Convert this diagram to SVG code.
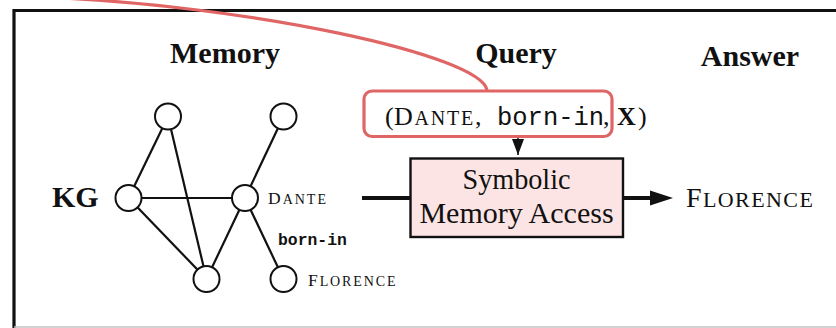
<svg xmlns="http://www.w3.org/2000/svg" width="836" height="328" viewBox="0 0 836 328">
  <style>
    .serif { font-family: "Liberation Serif", "Times New Roman", serif; fill: #111; }
    .bold { font-weight: bold; }
    .mono { font-family: "Liberation Mono", "Courier New", monospace; fill: #111; }
    .node { fill: #fff; stroke: #111; stroke-width: 2; }
    .edge { stroke: #111; stroke-width: 2.2; fill: none; }
    .thick { stroke: #111; stroke-width: 4; fill: none; }
    .hl { fill: none; stroke: #e06666; stroke-width: 3.2; }
  </style>
  <defs>
    <marker id="head" markerUnits="userSpaceOnUse" markerWidth="16" markerHeight="12" refX="16" refY="6" orient="auto" viewBox="0 0 16 12">
      <path d="M0,0 L16,6 L0,12 Z" fill="#111"/>
    </marker>
  </defs>

  <!-- frame -->
  <path d="M14,328 V10.5 H836" fill="none" stroke="#111" stroke-width="3.2"/>
  <line x1="14" y1="327" x2="836" y2="327" stroke="#c4c4c4" stroke-width="1.5"/>

  <!-- column headings -->
  <text class="serif bold" x="225" y="63" font-size="30" text-anchor="middle">Memory</text>
  <text class="serif bold" x="516" y="63" font-size="30" text-anchor="middle">Query</text>
  <text class="serif bold" x="750" y="66" font-size="30" text-anchor="middle">Answer</text>

  <!-- connectors -->
  <g id="connectors">
    <line class="edge" x1="168" y1="116.5" x2="128.5" y2="198"/>
    <line class="edge" x1="168" y1="116.5" x2="206.5" y2="279"/>
    <line class="edge" x1="128.5" y1="198" x2="245" y2="198"/>
    <line class="edge" x1="128.5" y1="198" x2="206.5" y2="279"/>
    <line class="edge" x1="245" y1="198" x2="206.5" y2="279"/>
    <line class="edge" x1="245" y1="198" x2="283.5" y2="116.5"/>
    <line class="edge" x1="245" y1="198" x2="283.5" y2="279"/>
    <!-- query into access box -->
    <line x1="518" y1="138" x2="518" y2="155" stroke="#111" stroke-width="1.5" marker-end="url(#head)"/>
    <!-- memory into access box -->
    <line class="thick" x1="362" y1="198" x2="410" y2="198"/>
    <!-- access box to answer -->
    <line class="thick" x1="623" y1="198" x2="654" y2="198"/>
    <path d="M650,190.5 L673,198 L650,205.5 Z" fill="#111"/>
  </g>

  <!-- knowledge graph -->
  <g id="node-top-left"><circle class="node" cx="168" cy="116.5" r="13"/></g>
  <g id="node-top-right"><circle class="node" cx="283.5" cy="116.5" r="13"/></g>
  <g id="node-kg">
    <circle class="node" cx="128.5" cy="198" r="13"/>
    <text class="serif bold" x="52" y="207" font-size="30">KG</text>
  </g>
  <g id="node-dante">
    <circle class="node" cx="245" cy="198" r="13"/>
    <text class="serif" x="268" y="204" font-size="17.5" letter-spacing="2">D<tspan font-size="14">ANTE</tspan></text>
  </g>
  <g id="node-bottom"><circle class="node" cx="206.5" cy="279" r="13"/></g>
  <g id="node-florence">
    <circle class="node" cx="283.5" cy="279" r="13"/>
    <text class="serif" x="308" y="286" font-size="17.5" letter-spacing="1.9">F<tspan font-size="14">LORENCE</tspan></text>
  </g>
  <text class="mono bold" x="278" y="245" font-size="16.4">born-in</text>

  <!-- query triple -->
  <g id="query">
    <rect x="364" y="91" width="248" height="45.5" rx="8" fill="#fff"/>
    <text class="serif" x="385" y="125" font-size="26">(</text>
    <text class="serif" x="394" y="125" font-size="26" letter-spacing="1.8">D<tspan font-size="20">ANTE</tspan></text>
    <text class="serif" x="475" y="125" font-size="26">,</text>
    <text class="mono" x="497" y="125" font-size="25.5">born-in</text>
    <text class="serif" x="603" y="125" font-size="26">,</text>
    <text class="serif bold" x="617" y="125" font-size="26">X</text>
    <text class="serif" x="638" y="125" font-size="26">)</text>
    <rect class="hl" x="364" y="91" width="248" height="45.5" rx="8"/>
  </g>

  <!-- highlight link from the query -->
  <path class="hl" d="M40,-3 C250,5 480,55 487,90"/>

  <!-- access module -->
  <g id="symbolic-memory-access">
    <rect x="410.5" y="158.5" width="212.5" height="78.5" fill="#fce4e4" stroke="#111" stroke-width="2.4"/>
    <text class="serif" x="516.5" y="189" font-size="30" text-anchor="middle" textLength="108" lengthAdjust="spacingAndGlyphs">Symbolic</text>
    <text class="serif" x="516.5" y="223" font-size="30" text-anchor="middle">Memory Access</text>
  </g>

  <!-- answer -->
  <g id="answer">
    <text class="serif" x="686" y="207" font-size="28" letter-spacing="1.4">F<tspan font-size="22">LORENCE</tspan></text>
  </g>
</svg>
